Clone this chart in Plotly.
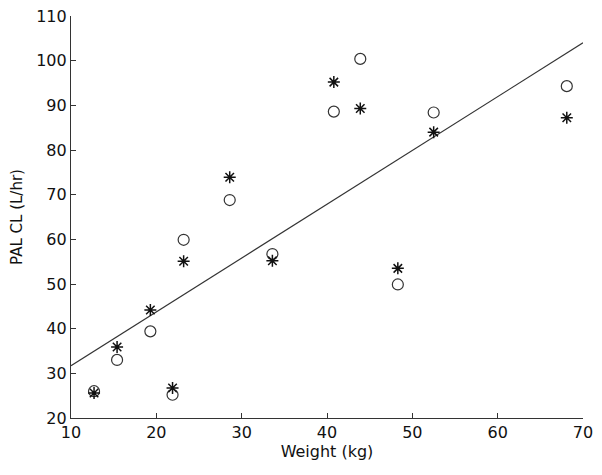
import plotly.graph_objects as go

weight = [12.7, 15.4, 19.3, 21.9, 23.2, 28.6, 33.6, 40.8, 43.9, 48.3, 52.5, 68.1]
cl_circle = [26.0, 33.0, 39.4, 25.2, 59.9, 68.8, 56.7, 88.6, 100.4, 49.9, 88.4, 94.3]
cl_star = [25.6, 35.9, 44.2, 26.7, 55.1, 73.9, 55.2, 95.2, 89.3, 53.5, 84.0, 87.2]
fit_x = [10, 70]
fit_y = [31.7, 104.0]

x_ticks = [10, 20, 30, 40, 50, 60, 70]
y_ticks = [20, 30, 40, 50, 60, 70, 80, 90, 100, 110]

FONT = "DejaVu Sans, Arial"

fig = go.Figure()
fig.add_trace(go.Scatter(x=fit_x, y=fit_y, mode="lines",
                         line=dict(color="#333333", width=1.2), showlegend=False))
fig.add_trace(go.Scatter(x=weight, y=cl_circle, mode="markers",
                         marker=dict(symbol="circle-open", size=11, color="#333333",
                                     line=dict(width=1.2)), showlegend=False))
fig.add_trace(go.Scatter(x=weight, y=cl_star, mode="markers",
                         marker=dict(symbol="asterisk-open", size=10, color="#111111",
                                     line=dict(width=1.5, color="#111111")), showlegend=False))

axis_common = dict(showgrid=False, zeroline=False, showline=True, linecolor="#333333",
                   linewidth=1.2, ticks="inside", ticklen=5, tickcolor="#333333",
                   tickfont=dict(family=FONT, size=16, color="#111111"),
                   ticklabeloverflow="allow", mirror=False)

# page body has a default 8px margin, so the figure is sized to fit the window
fig.update_layout(
    width=594, height=467,
    margin=dict(l=63, r=19, t=8, b=57, autoexpand=False),
    plot_bgcolor="white", paper_bgcolor="white",
    xaxis=dict(range=[10, 70], tickvals=x_ticks,
               title=dict(text="Weight (kg)", standoff=0,
                          font=dict(family=FONT, size=16, color="#111111")),
               **axis_common),
    yaxis=dict(range=[20, 110], tickvals=y_ticks,
               title=dict(text="PAL CL (L/hr)", standoff=12,
                          font=dict(family=FONT, size=15, color="#111111")),
               **axis_common),
)

fig.write_html("out.html")
